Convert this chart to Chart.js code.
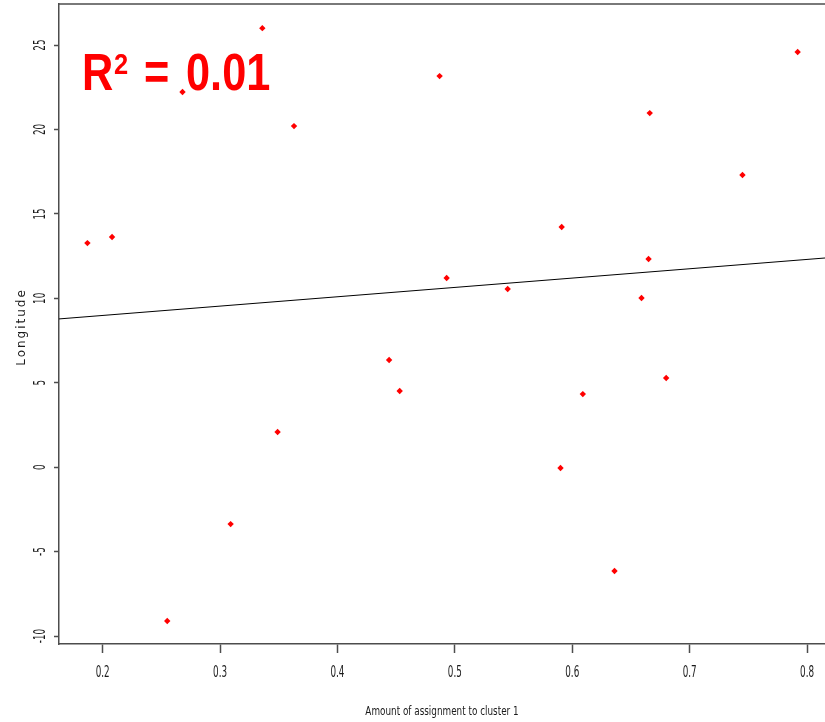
<!DOCTYPE html>
<html><head><meta charset="utf-8">
<script src="https://cdn.jsdelivr.net/npm/chart.js@4/dist/chart.umd.min.js"></script>
<style>html,body{margin:0;padding:0;background:#fff}#wrap{width:825px;height:722px}</style>
</head><body><div id="wrap"><canvas id="c" width="825" height="722"></canvas></div>
<script>
// Data
const clusterAmount = [0.187, 0.208, 0.268, 0.336, 0.363, 0.349, 0.309, 0.255, 0.444, 0.453, 0.487, 0.493, 0.545, 0.591, 0.590, 0.609, 0.636, 0.659, 0.665, 0.666, 0.680, 0.745, 0.792];
const longitude     = [13.27, 13.63, 22.22, 26.0, 20.2, 2.08, -3.37, -9.11, 6.35, 4.51, 23.16, 11.2, 10.55, 14.22, -0.05, 4.33, -6.15, 10.02, 12.33, 20.97, 5.28, 17.3, 24.59];
const xTickValues = [0.2, 0.3, 0.4, 0.5, 0.6, 0.7, 0.8];
const yTickValues = [-10, -5, 0, 5, 10, 15, 20, 25];
const xRange = [0.1628, 0.8153];
const yRange = [-10.47, 27.43];
const fitIntercept = 7.88;
const fitSlope = 5.53;
const r2Label = 'R';
const r2Sup = '2';
const r2Value = '0.01';
const xTitle = 'Amount of assignment to cluster 1';
const yTitle = 'Longitude';

const tickFont = "16px 'DejaVu Sans', sans-serif";
const axisColor = '#4d4d4d';

const fitLine = [
  {x: xRange[0], y: fitIntercept + fitSlope * xRange[0]},
  {x: xRange[1], y: fitIntercept + fitSlope * xRange[1]}
];

const decor = {
  id: 'decor',
  beforeDatasetsDraw(chart) {
    const ctx = chart.ctx, a = chart.chartArea;
    ctx.save();
    ctx.strokeStyle = axisColor; ctx.lineWidth = 1.5;
    ctx.beginPath(); ctx.moveTo(a.left, a.top); ctx.lineTo(a.right, a.top); ctx.stroke();
    ctx.fillStyle = '#ff0000';
    ctx.textBaseline = 'alphabetic';
    ctx.save();
    ctx.translate(82, 90);
    ctx.scale(0.85, 1);
    ctx.font = "bold 51px 'Liberation Sans', Arial, sans-serif";
    ctx.fillText(r2Label, 0, 0);
    ctx.fillText('=', (144 - 82) / 0.85, 0);
    ctx.fillText(r2Value, (186 - 82) / 0.85, 0);
    ctx.font = "bold 30px 'Liberation Sans', Arial, sans-serif";
    ctx.fillText(r2Sup, (114 - 82) / 0.85, -16);
    ctx.restore();
    ctx.restore();
  },
  afterDraw(chart) {
    const ctx = chart.ctx, ys = chart.scales.y, xs = chart.scales.x;
    ctx.save();
    ctx.fillStyle = '#1a1a1a';
    ctx.font = tickFont;
    ctx.textAlign = 'center'; ctx.textBaseline = 'middle';
    yTickValues.forEach(v => {
      const py = ys.getPixelForValue(v);
      ctx.save(); ctx.translate(41, py); ctx.rotate(-Math.PI / 2); ctx.scale(0.55, 1);
      ctx.fillText(String(v), 0, 0);
      ctx.restore();
    });
    xTickValues.forEach(v => {
      const px = xs.getPixelForValue(v);
      ctx.save(); ctx.translate(px, 673); ctx.scale(0.55, 1);
      ctx.fillText(String(v), 0, 0);
      ctx.restore();
    });
    ctx.save();
    ctx.translate(442, 712); ctx.scale(0.68, 1);
    ctx.font = "13px 'DejaVu Sans', sans-serif";
    ctx.fillText(xTitle, 0, 0);
    ctx.restore();
    ctx.save();
    ctx.translate(22, 327); ctx.rotate(-Math.PI / 2);
    ctx.font = "12px 'DejaVu Sans', sans-serif";
    ctx.letterSpacing = '2px';
    ctx.fillText(yTitle, 0, 0);
    ctx.restore();
    ctx.restore();
  }
};

new Chart(document.getElementById('c'), {
  type: 'scatter',
  data: {
    datasets: [
      {
        label: 'points',
        data: clusterAmount.map((x, i) => ({x, y: longitude[i]})),
        backgroundColor: '#ff0000', borderColor: '#ff0000',
        pointStyle: 'rectRot', pointRadius: 3.2, borderWidth: 0
      },
      {
        type: 'line', label: 'fit', data: fitLine,
        borderColor: '#000', borderWidth: 1, pointRadius: 0, fill: false
      }
    ]
  },
  options: {
    responsive: false, animation: false, devicePixelRatio: 1,
    layout: {autoPadding: false, padding: {top: 4, right: 0, left: 0, bottom: 0}},
    plugins: {legend: {display: false}, tooltip: {enabled: false}},
    scales: {
      x: {
        type: 'linear', min: xRange[0], max: xRange[1],
        afterBuildTicks: s => { s.ticks = xTickValues.map(v => ({value: v})); },
        afterFit: s => { s.height = 78; s.paddingLeft = 0; s.paddingRight = 0; },
        grid: {drawOnChartArea: false, tickLength: 9, color: axisColor, tickWidth: 1.5},
        border: {color: axisColor, width: 1.5},
        ticks: {display: false}
      },
      y: {
        type: 'linear', min: yRange[0], max: yRange[1],
        afterBuildTicks: s => { s.ticks = yTickValues.map(v => ({value: v})); },
        afterFit: s => { s.width = 59; s.paddingTop = 0; s.paddingBottom = 0; },
        grid: {drawOnChartArea: false, tickLength: 5, color: axisColor, tickWidth: 1.5},
        border: {color: axisColor, width: 1.5},
        ticks: {display: false}
      }
    }
  },
  plugins: [decor]
});
</script>
</body></html>
